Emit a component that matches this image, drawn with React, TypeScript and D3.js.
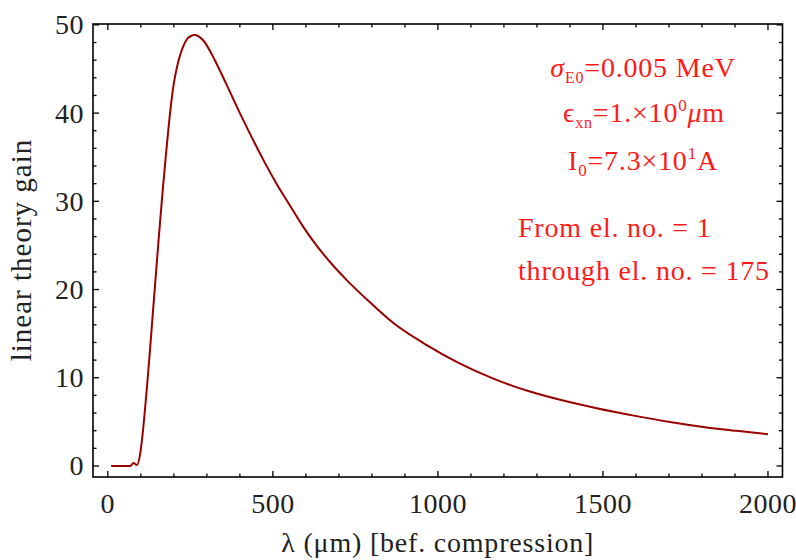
import React, { useEffect, useRef } from 'react';
import * as d3 from 'd3';

// wavelength (um, before compression) and linear theory gain
const lambda = [10, 40, 68, 78, 88, 98, 105, 112, 120, 128, 136, 144, 152, 160, 168, 176, 184, 192, 200, 210, 220, 230, 240, 252, 262, 275, 290, 324, 360, 400, 430, 471, 511, 552, 592, 632, 683, 723, 784, 865, 966, 1067, 1168, 1269, 1370, 1481, 1602, 1703, 1804, 1905, 2000];
const gain = [0, 0, 0, 0.35, 0.1, 1.4, 3.5, 6.2, 9.6, 13.3, 17.2, 21.0, 24.8, 28.5, 32.0, 35.3, 38.4, 41.2, 43.4, 45.3, 46.7, 47.7, 48.4, 48.75, 48.85, 48.7, 48.2, 46.0, 43.2, 40.0, 37.7, 34.7, 32.0, 29.5, 27.1, 25.0, 22.7, 21.1, 18.9, 16.2, 13.7, 11.6, 9.9, 8.55, 7.5, 6.55, 5.65, 4.98, 4.42, 3.98, 3.6];

const xMajor = [0, 500, 1000, 1500, 2000];
const yMajor = [0, 10, 20, 30, 40, 50];

const xTitle = 'λ (μm) [bef. compression]';
const yTitle = 'linear theory gain';

const App = () => {
  const svgRef = useRef<SVGSVGElement>(null);

  useEffect(() => {
    const svg = d3.select(svgRef.current);
    svg.selectAll('*').remove();

    const width = 796;
    const height = 560;
    const frame = { left: 93, right: 782.5, top: 24, bottom: 477 };
    const font = '"Liberation Serif", "Times New Roman", serif';
    const red = '#ff1a1a';

    const x = d3.scaleLinear().domain([-45, 2044]).range([frame.left, frame.right]);
    const y = d3.scaleLinear().domain([-1.25, 50.1]).range([frame.bottom, frame.top]);

    svg.append('rect').attr('width', width).attr('height', height).attr('fill', '#fff');

    // ticks on all four sides, pointing inward
    const ticks = svg.append('g').attr('stroke', '#000').attr('stroke-width', 1.3);
    const xMinor = d3.range(0, 2001, 100);
    const yMinor = d3.range(0, 51, 2);
    xMinor.forEach((v) => {
      const len = xMajor.includes(v) ? 6 : 3.5;
      ticks.append('line').attr('x1', x(v)).attr('x2', x(v)).attr('y1', frame.bottom).attr('y2', frame.bottom - len);
      ticks.append('line').attr('x1', x(v)).attr('x2', x(v)).attr('y1', frame.top).attr('y2', frame.top + len);
    });
    yMinor.forEach((v) => {
      const len = yMajor.includes(v) ? 6 : 3.5;
      ticks.append('line').attr('y1', y(v)).attr('y2', y(v)).attr('x1', frame.left).attr('x2', frame.left + len);
      ticks.append('line').attr('y1', y(v)).attr('y2', y(v)).attr('x1', frame.right).attr('x2', frame.right - len);
    });

    svg.append('rect')
      .attr('x', frame.left).attr('y', frame.top)
      .attr('width', frame.right - frame.left).attr('height', frame.bottom - frame.top)
      .attr('fill', 'none').attr('stroke', '#000').attr('stroke-width', 1.6);

    // tick labels
    svg.append('g').selectAll('text').data(xMajor).join('text')
      .attr('x', (d) => x(d)).attr('y', 513)
      .attr('text-anchor', 'middle')
      .attr('font-family', font).attr('font-size', 28).attr('fill', '#222')
      .attr('letter-spacing', 0.5)
      .text((d) => d);
    svg.append('g').selectAll('text').data(yMajor).join('text')
      .attr('x', 84).attr('y', (d) => y(d)).attr('dy', '0.34em')
      .attr('text-anchor', 'end')
      .attr('font-family', font).attr('font-size', 28).attr('fill', '#222')
      .attr('letter-spacing', 0.5)
      .text((d) => d);

    // axis titles
    svg.append('text')
      .attr('x', (frame.left + frame.right) / 2).attr('y', 552)
      .attr('text-anchor', 'middle')
      .attr('font-family', font).attr('font-size', 28).attr('fill', '#222')
      .attr('letter-spacing', 0.8)
      .text(xTitle);
    svg.append('text')
      .attr('transform', `translate(31,250) rotate(-90)`)
      .attr('text-anchor', 'middle')
      .attr('font-family', font).attr('font-size', 29).attr('fill', '#222')
      .attr('letter-spacing', 1)
      .text(yTitle);

    // curve
    const line = d3.line<number>()
      .x((d, i) => x(lambda[i]))
      .y((d) => y(d))
      .curve(d3.curveMonotoneX);
    svg.append('path')
      .datum(gain)
      .attr('d', line)
      .attr('fill', 'none')
      .attr('stroke', '#990000')
      .attr('stroke-width', 2);

    // annotations
    const note = svg.append('g')
      .attr('font-family', font).attr('font-size', 28).attr('fill', red)
      .attr('letter-spacing', 0.8);

    const t1 = note.append('text').attr('x', 643).attr('y', 77).attr('text-anchor', 'middle');
    t1.append('tspan').attr('font-style', 'italic').text('σ');
    t1.append('tspan').attr('font-size', 16).attr('dy', 6).text('E0');
    t1.append('tspan').attr('dy', -6).text('=0.005 MeV');

    const t2 = note.append('text').attr('x', 644).attr('y', 122).attr('text-anchor', 'middle');
    t2.append('tspan').text('ϵ');
    t2.append('tspan').attr('font-size', 16).attr('dy', 6).text('xn');
    t2.append('tspan').attr('dy', -6).text('=1.×10');
    t2.append('tspan').attr('font-size', 17).attr('dy', -11).text('0');
    t2.append('tspan').attr('dy', 11).attr('font-style', 'italic').text('μ');
    t2.append('tspan').text('m');

    const t3 = note.append('text').attr('x', 643).attr('y', 170).attr('text-anchor', 'middle');
    t3.append('tspan').text('I');
    t3.append('tspan').attr('font-size', 17).attr('dy', 6).text('0');
    t3.append('tspan').attr('dy', -6).text('=7.3×10');
    t3.append('tspan').attr('font-size', 17).attr('dy', -11).text('1');
    t3.append('tspan').attr('dy', 11).text('A');

    note.append('text').attr('x', 518).attr('y', 237).text('From el. no. = 1');
    note.append('text').attr('x', 518).attr('y', 280).text('through el. no. = 175');
  }, []);

  return (
    <svg
      ref={svgRef}
      width={796}
      height={560}
      style={{ position: 'absolute', left: 0, top: 0 }}
    />
  );
};

export default App;
